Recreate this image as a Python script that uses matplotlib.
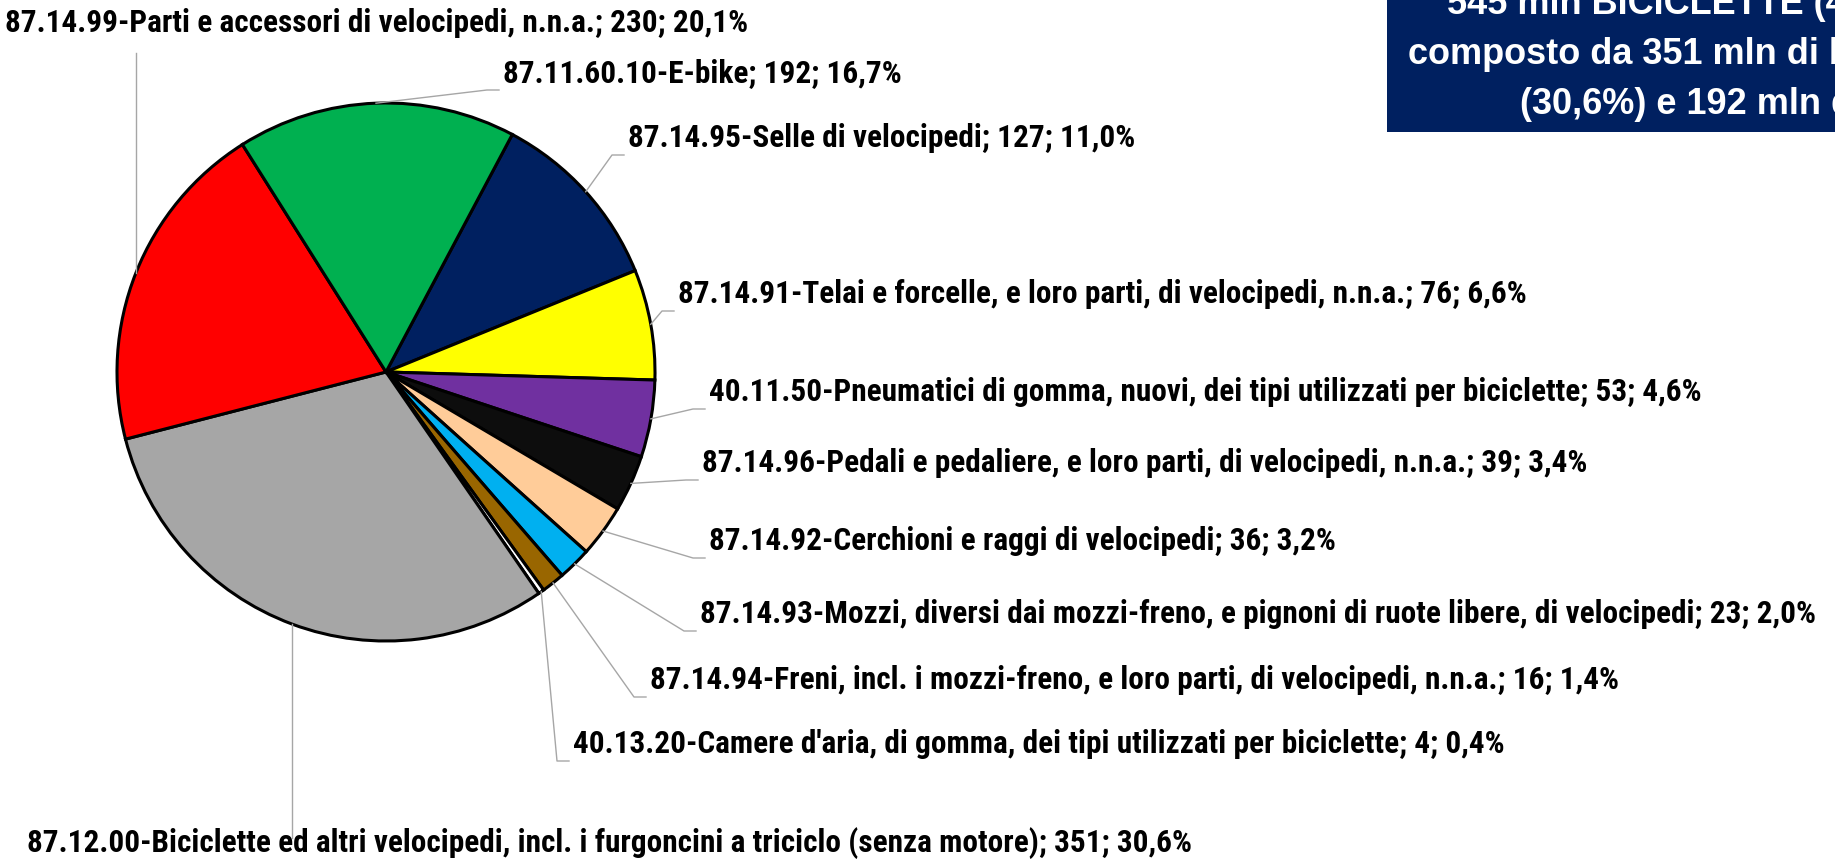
import matplotlib
matplotlib.use("Agg")
import matplotlib.pyplot as plt
import numpy as np
from matplotlib import font_manager

# ---- data ----
categories = [
    "87.14.95-Selle di velocipedi",
    "87.14.91-Telai e forcelle, e loro parti, di velocipedi, n.n.a.",
    "40.11.50-Pneumatici di gomma, nuovi, dei tipi utilizzati per biciclette",
    "87.14.96-Pedali e pedaliere, e loro parti, di velocipedi, n.n.a.",
    "87.14.92-Cerchioni e raggi di velocipedi",
    "87.14.93-Mozzi, diversi dai mozzi-freno, e pignoni di ruote libere, di velocipedi",
    "87.14.94-Freni, incl. i mozzi-freno, e loro parti, di velocipedi, n.n.a.",
    "40.13.20-Camere d'aria, di gomma, dei tipi utilizzati per biciclette",
    "87.12.00-Biciclette ed altri velocipedi, incl. i furgoncini a triciclo (senza motore)",
    "87.14.99-Parti e accessori di velocipedi, n.n.a.",
    "87.11.60.10-E-bike",
]
values = [127, 76, 53, 39, 36, 23, 16, 4, 351, 230, 192]
percents = ["11,0%", "6,6%", "4,6%", "3,4%", "3,2%", "2,0%", "1,4%", "0,4%", "30,6%", "20,1%", "16,7%"]
colors = ["#002060", "#FFFF00", "#7030A0", "#0D0D0D", "#FFCC99", "#00B0F0",
          "#996600", "#FFFFFF", "#A6A6A6", "#FF0000", "#00B050"]

box_lines = ["545 mln BICICLETTE (47,5%)",
             "composto da 351 mln di biciclette",
             "(30,6%) e 192 mln di e-bike (16,7%)"]

# ---- layout (pixel coordinates, y measured from top) ----
W, H = 1835, 860
cx, cy, R = 386, 372, 269
# label text left x, centre y
label_pos = [(628, 138), (678, 294), (709, 392), (702, 463), (709, 541), (700, 614),
             (650, 680), (573, 744), (27, 843), (5, 23), (503, 73)]

avail = {f.name for f in font_manager.fontManager.ttflist}
narrow = ("Liberation Sans Narrow" if "Liberation Sans Narrow" in avail
          else "Roboto Condensed" if "Roboto Condensed" in avail else "Roboto")

fig = plt.figure(figsize=(W / 100, H / 100), dpi=100)
ax = fig.add_axes([0, 0, 1, 1])

def Y(y):
    return H - y

wedges, _ = ax.pie(values, colors=colors, startangle=62, counterclock=False,
                   center=(cx, Y(cy)), radius=R, frame=True,
                   wedgeprops=dict(edgecolor="black", linewidth=2.2))
ax.set_xlim(0, W)
ax.set_ylim(0, H)
ax.set_aspect("equal")
ax.axis("off")

lc = "#A6A6A6"
for i, w in enumerate(wedges):
    th = np.deg2rad((w.theta1 + w.theta2) / 2)
    ex, ey = cx + R * np.cos(th), Y(cy) + R * np.sin(th)
    tx, ty = label_pos[i]
    txt = f"{categories[i]}; {values[i]}; {percents[i]}"
    ax.text(tx, Y(ty), txt, ha="left", va="center", fontsize=22.5,
            fontweight="bold", family=[narrow, "DejaVu Sans"], color="black")
    if i == 9:  # vertical leader up
        ax.plot([ex, ex], [ey, Y(ty + 30)], color=lc, lw=1.0)
    elif i == 8:  # vertical leader down
        ax.plot([ex, ex], [ey, Y(ty - 5)], color=lc, lw=1.0)
    else:
        ly = Y(ty + 17)
        ax.plot([ex, tx - 16, tx - 4], [ey, ly, ly], color=lc, lw=1.0)

# top-right box
bx = 1387
ax.add_patch(plt.Rectangle((bx, Y(132)), W - bx + 10, 140, facecolor="#002060",
                           edgecolor="none", clip_on=False))
box_x = [1447, 1408, 1520]
box_base = [14, 64, 114]
for s, x, y in zip(box_lines, box_x, box_base):
    ax.text(x, Y(y), s, ha="left", va="baseline", fontsize=26, fontweight="bold",
            color="white", family=["Liberation Sans", "DejaVu Sans"])

fig.savefig("out.png", dpi=100)
